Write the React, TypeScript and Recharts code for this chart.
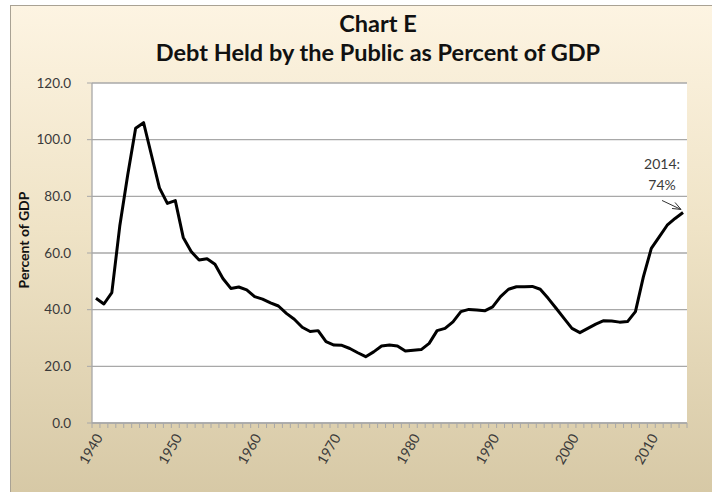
import { LineChart, Line, XAxis, YAxis, CartesianGrid, ReferenceDot } from 'recharts';

const years = Array.from({ length: 75 }, (_, i) => 1940 + i);

// percent of GDP, 1940..2014
const debtPct = [
  44.0, 42.0, 46.0, 69.5, 87.5, 104.0, 106.0, 94.5, 83.0, 77.5,
  78.5, 65.5, 60.5, 57.5, 58.0, 56.0, 51.0, 47.5, 48.0, 47.0,
  44.6, 43.7, 42.4, 41.3, 38.7, 36.6, 33.8, 32.3, 32.6, 28.7,
  27.5, 27.4, 26.3, 24.8, 23.4, 25.1, 27.2, 27.5, 27.2, 25.4,
  25.7, 25.9, 28.1, 32.6, 33.4, 35.7, 39.3, 40.1, 39.9, 39.6,
  41.0, 44.6, 47.2, 48.1, 48.1, 48.2, 47.2, 44.0, 40.5, 36.9,
  33.4, 31.9, 33.4, 34.9, 36.1, 36.0, 35.6, 35.8, 39.3, 51.6,
  61.6, 65.7, 69.8, 72.2, 74.3,
];

const yTicks = [0, 20, 40, 60, 80, 100, 120];
const yearLabels = [1940, 1950, 1960, 1970, 1980, 1990, 2000, 2010];
const noteLines = ['2014:', '74%'];

const data = years.map((year, i) => ({ year, value: debtPct[i] }));
const boundaries = [...years.map((y) => y - 0.5), years[years.length - 1] + 0.5];
const xTicks = [...boundaries, ...yearLabels].sort((a, b) => a - b);

const FONT = 'Lato, "Open Sans", sans-serif';
const GRID = '#a8a8a8';
const TEXT = '#3a3a3a';

const YearTick = (props: any) => {
  const { x, y, payload } = props;
  const v = payload.value;
  if (!Number.isInteger(v)) {
    return <line x1={x} y1={y} x2={x} y2={y + 5} stroke={GRID} strokeWidth={1} />;
  }
  return (
    <text
      x={x + 3}
      y={y + 12}
      dy="0.35em"
      textAnchor="end"
      transform={`rotate(-60, ${x + 3}, ${y + 12})`}
      fontSize={14}
      fontFamily={FONT}
      fill={TEXT}
    >
      {v}
    </text>
  );
};

const Note = (props: any) => {
  const { cx, cy } = props;
  if (cx == null || cy == null) return null;
  const tx = cx - 2;
  const ty = cy - 3;
  return (
    <g>
      <line x1={cx - 21} y1={cy - 12} x2={tx} y2={ty} stroke="#333" strokeWidth={1} />
      <polyline
        points={`${tx - 9},${ty - 1} ${tx},${ty} ${tx - 6},${ty - 7}`}
        fill="none"
        stroke="#333"
        strokeWidth={1}
      />
      <text x={cx - 21} y={cy - 43} textAnchor="middle" fontSize={14} fontFamily={FONT} fill={TEXT}>
        {noteLines[0]}
      </text>
      <text x={cx - 21} y={cy - 22} textAnchor="middle" fontSize={14} fontFamily={FONT} fill={TEXT}>
        {noteLines[1]}
      </text>
    </g>
  );
};

export default function App() {
  const last = data[data.length - 1];
  return (
    <div style={{ position: 'absolute', left: 0, top: 0, width: 712, height: 492, background: '#fff', overflow: 'hidden' }}>
      <div
        style={{
          position: 'absolute',
          left: 10,
          top: 5,
          width: 710,
          height: 495,
          borderLeft: '1px solid #a9a294',
          borderTop: '1px solid #a9a294',
          background: 'linear-gradient(180deg, #fdf4e2 0%, #efe3c6 45%, #d6c8a5 100%)',
        }}
      />
      <div
        style={{
          position: 'absolute',
          left: 378,
          top: 9,
          transform: 'translateX(-50%)',
          whiteSpace: 'nowrap',
          textAlign: 'center',
          fontFamily: FONT,
          fontWeight: 700,
          fontSize: 23.5,
          lineHeight: '29px',
          color: '#111',
        }}
      >
        <div>Chart E</div>
        <div>Debt Held by the Public as Percent of GDP</div>
      </div>
      <div
        style={{
          position: 'absolute',
          left: 23,
          top: 240,
          transform: 'translate(-50%, -50%) rotate(-90deg)',
          whiteSpace: 'nowrap',
          fontFamily: FONT,
          fontWeight: 700,
          fontSize: 14,
          color: '#111',
        }}
      >
        Percent of GDP
      </div>
      <LineChart
        width={712}
        height={492}
        data={data}
        margin={{ top: 83, right: 25, bottom: 0, left: 0 }}
        style={{ position: 'absolute', left: 0, top: 0 }}
      >
        <CartesianGrid vertical={false} stroke={GRID} strokeWidth={1.3} fill="#fff" />
        <XAxis
          dataKey="year"
          type="number"
          domain={[boundaries[0], boundaries[boundaries.length - 1]]}
          ticks={xTicks}
          interval={0}
          tickLine={false}
          tickSize={0}
          tickMargin={0}
          tick={<YearTick />}
          height={69}
          axisLine={{ stroke: GRID, strokeWidth: 1.3 }}
        />
        <YAxis
          domain={[0, 120]}
          ticks={yTicks}
          interval={0}
          width={92}
          tickSize={5}
          tickMargin={16}
          tickFormatter={(v: number) => v.toFixed(1)}
          tick={{ fontSize: 13.5, fontFamily: FONT, fill: TEXT }}
          axisLine={{ stroke: GRID, strokeWidth: 1.3 }}
          tickLine={{ stroke: GRID }}
        />
        <Line
          type="linear"
          dataKey="value"
          stroke="#000"
          strokeWidth={3}
          strokeLinejoin="round"
          dot={false}
          isAnimationActive={false}
        />
        <ReferenceDot x={last.year} y={last.value} r={0} shape={<Note />} ifOverflow="visible" />
      </LineChart>
    </div>
  );
}
